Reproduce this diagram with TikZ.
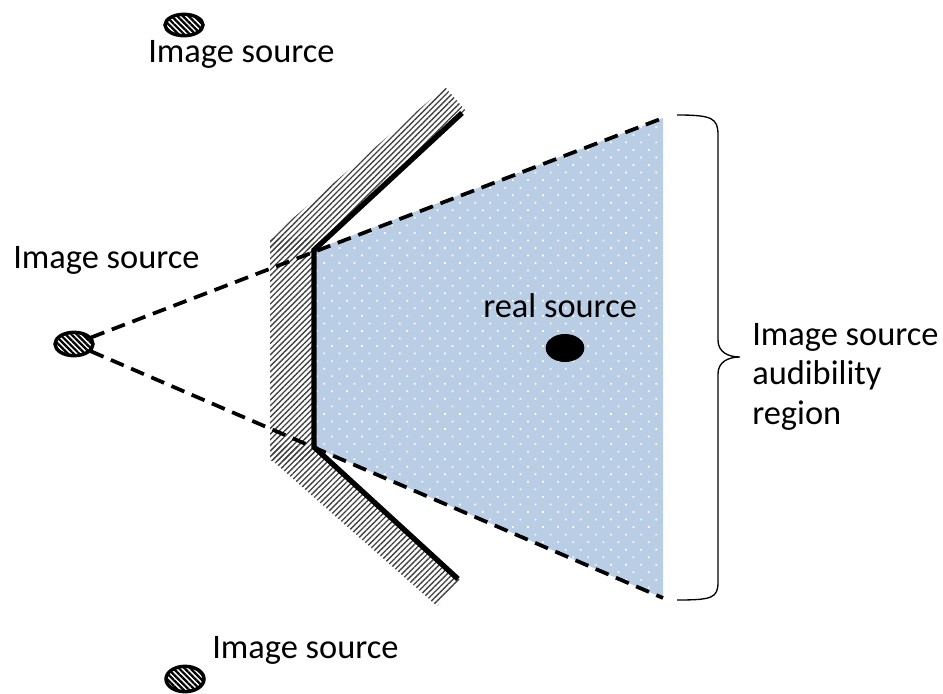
\documentclass[tikz,border=0pt]{standalone}
\usepackage{fontspec}
\setmainfont{Carlito}
\usepackage{xcolor}
\usetikzlibrary{shapes.geometric, patterns.meta, positioning}
\definecolor{zoneblue}{RGB}{185,205,229}
\tikzset{
    imgsrc/.style={ellipse, draw, line width=2.6pt, minimum width=28.5pt, minimum height=17.5pt, inner sep=0pt,
        pattern={Lines[angle=-45, distance=3pt, line width=1.7pt]}, pattern color=black},
    realsrc/.style={ellipse, fill=black, minimum width=29pt, minimum height=21pt, inner sep=0pt},
    lbl/.style={inner sep=0pt, anchor=base west, font=\fontsize{25.8}{29.3}\selectfont},
    ray/.style={line width=2.8pt, dash pattern=on 10.5pt off 6pt},
    wall/.style={line width=4pt},
    hatch/.style={pattern={Lines[angle=45, distance=3pt, line width=1pt]}, pattern color=black!75}
}

\begin{document}
\begin{tikzpicture}[x=0.75pt, y=-0.75pt]
    \useasboundingbox (0,0) rectangle (943,693);
    \coordinate (wtop) at (314,250);
    \coordinate (wbot) at (314,447);
    \coordinate (wend1) at (462,113);
    \coordinate (wend2) at (458,579);
    \coordinate (far1) at (663,118);
    \coordinate (far2) at (663,598);

    % audibility region
    \fill[zoneblue] (wtop) -- (far1) -- (far2) -- (wbot) -- cycle;
    \fill[pattern={Dots[distance=8pt, angle=45, radius=0.9pt]}, pattern color=white]
        (wtop) -- (far1) -- (far2) -- (wbot) -- cycle;

    % wall
    \fill[hatch] (270,238) rectangle (314,460);
    \fill[hatch] (270,238) -- (445,87) -- (466,111) -- (wtop) -- (270,252) -- cycle;
    \fill[hatch] (270,445) -- (wbot) -- (460,580) -- (437,606) -- (274,462) -- cycle;
    \draw[wall] (wend1) -- (wtop) -- (wbot) -- (wend2);

    % sources
    \node (leftsrc) [imgsrc] at (74,344) {};
    \node (topsrc) [imgsrc, minimum height=16pt] at (184,25) {};
    \node (botsrc) [imgsrc, minimum height=19pt] at (185,679) {};
    \node (real) [realsrc] at (565,348) {};

    \draw[ray] (leftsrc) -- (far1);
    \draw[ray] (leftsrc) -- (far2);

    % labels
    \node (toplbl) [lbl] at (148,62) {Image source};
    \node (leftlbl) [lbl] at (13,268) {Image source};
    \node (botlbl) [lbl] at (212,658) {Image source};
    \node (reallbl) [lbl] at (483,317) {real source};
    \node (zonelbl) [lbl, align=left] at (752,424) {Image source\\audibility\\region};

    % brace
    \draw[line width=1pt] (677,115) .. controls (712,115) and (718,118) .. (718,135) -- (718,340)
        .. controls (718,352) and (728,357) .. (740,357) .. controls (728,357) and (718,362) .. (718,374)
        -- (718,582) .. controls (718,598) and (712,600) .. (677,600);
\end{tikzpicture}
\end{document}
